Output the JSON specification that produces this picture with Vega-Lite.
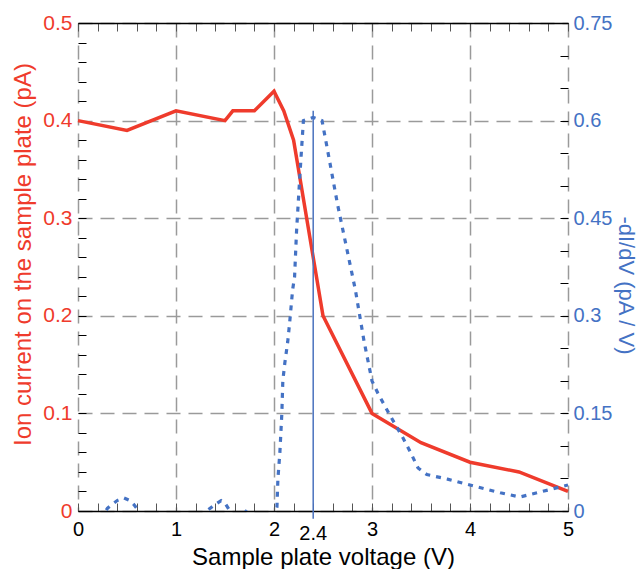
{
  "$schema": "https://vega.github.io/schema/vega-lite/v6.json",
  "width": 490,
  "height": 488,
  "autosize": {"type": "none"},
  "padding": {"left": 78, "top": 23, "right": 70, "bottom": 58},
  "background": "white",
  "config": {
    "font": "Liberation Sans",
    "view": {"stroke": null},
    "axis": {"labelFont": "Liberation Sans", "titleFont": "Liberation Sans", "titleFontWeight": "normal", "labelOverlap": false, "labelBound": false, "labelFlush": false}
  },
  "datasets": {
    "current": [
      {"V": 0.0, "I": 0.40}, {"V": 0.5, "I": 0.39}, {"V": 1.0, "I": 0.41}, {"V": 1.5, "I": 0.40},
      {"V": 1.58, "I": 0.41}, {"V": 1.8, "I": 0.41}, {"V": 2.0, "I": 0.43}, {"V": 2.1, "I": 0.41},
      {"V": 2.2, "I": 0.38}, {"V": 2.5, "I": 0.20}, {"V": 3.0, "I": 0.10}, {"V": 3.5, "I": 0.07},
      {"V": 4.0, "I": 0.05}, {"V": 4.5, "I": 0.04}, {"V": 5.0, "I": 0.02}
    ],
    "deriv": [
      {"V": 0.0, "D": -0.05}, {"V": 0.2, "D": -0.02}, {"V": 0.3, "D": 0.004}, {"V": 0.33, "D": 0.008},
      {"V": 0.4, "D": 0.016}, {"V": 0.47, "D": 0.02}, {"V": 0.53, "D": 0.016}, {"V": 0.57, "D": 0.01},
      {"V": 0.62, "D": 0.0}, {"V": 0.7, "D": -0.02}, {"V": 1.0, "D": -0.04}, {"V": 1.25, "D": -0.01},
      {"V": 1.33, "D": 0.002}, {"V": 1.4, "D": 0.01}, {"V": 1.46, "D": 0.016}, {"V": 1.5, "D": 0.012},
      {"V": 1.55, "D": 0.0}, {"V": 1.6, "D": -0.015}, {"V": 1.65, "D": -0.004}, {"V": 1.7, "D": 0.001},
      {"V": 1.75, "D": -0.005}, {"V": 1.85, "D": -0.03}, {"V": 1.95, "D": -0.02}, {"V": 2.02, "D": 0.0},
      {"V": 2.03, "D": 0.006}, {"V": 2.04, "D": 0.05}, {"V": 2.06, "D": 0.09}, {"V": 2.08, "D": 0.15},
      {"V": 2.09, "D": 0.2}, {"V": 2.11, "D": 0.227}, {"V": 2.14, "D": 0.26}, {"V": 2.16, "D": 0.29},
      {"V": 2.19, "D": 0.34}, {"V": 2.21, "D": 0.36}, {"V": 2.23, "D": 0.43}, {"V": 2.27, "D": 0.53},
      {"V": 2.3, "D": 0.6}, {"V": 2.4, "D": 0.605}, {"V": 2.49, "D": 0.6}, {"V": 2.54, "D": 0.56},
      {"V": 2.65, "D": 0.47}, {"V": 2.83, "D": 0.34}, {"V": 2.92, "D": 0.26}, {"V": 3.0, "D": 0.2},
      {"V": 3.06, "D": 0.181}, {"V": 3.18, "D": 0.148}, {"V": 3.31, "D": 0.114}, {"V": 3.39, "D": 0.091},
      {"V": 3.47, "D": 0.066}, {"V": 3.56, "D": 0.056}, {"V": 3.77, "D": 0.049}, {"V": 4.0, "D": 0.04},
      {"V": 4.31, "D": 0.028}, {"V": 4.51, "D": 0.0215}, {"V": 4.71, "D": 0.029}, {"V": 5.0, "D": 0.04}
    ],
    "marker": [{"V": 2.4, "top": 0.41, "bottom": -0.008, "labelY": -0.0236, "label": "2.4"}]
  },
  "layer": [
    {
      "layer": [
        {
          "data": {"name": "current"},
          "mark": {"type": "line", "color": "#EF3B2C", "strokeWidth": 3.5, "strokeJoin": "miter"},
          "encoding": {
            "x": {
              "field": "V", "type": "quantitative",
              "scale": {"domain": [0, 5], "nice": false, "zero": false},
              "axis": {
                "orient": "bottom", "tickCount": 100, "labelOverlap": false, "labelFlush": false,
                "values": [0,0.2,0.4,0.6,0.8,1,1.2,1.4,1.6,1.8,2,2.2,2.4,2.6,2.8,3,3.2,3.4,3.6,3.8,4,4.2,4.4,4.6,4.8,5],
                "labelExpr": "abs(datum.value - round(datum.value)) < 1e-6 ? format(round(datum.value), 'd') : ''",
                "labelFontSize": 20, "labelColor": "black", "labelPadding": 16,
                "tickSize": -8, "tickColor": "#555555", "tickWidth": 1,
                "domainColor": "black", "domainWidth": 1.5,
                "grid": true, "gridColor": "#9a9a9a", "gridWidth": 1.5, "gridDash": [14, 8],
                "gridOpacity": {"condition": {"test": "abs(datum.value - round(datum.value)) < 1e-6", "value": 1}, "value": 0},
                "title": "Sample plate voltage (V)", "titleFontSize": 24, "titleColor": "black",
                "titleX": 245, "titleY": 46, "titleAlign": "center", "titleBaseline": "middle"
              }
            },
            "y": {
              "field": "I", "type": "quantitative",
              "scale": {"domain": [0, 0.5], "nice": false},
              "axis": {
                "orient": "left", "tickCount": 100, "labelOverlap": false,
                "values": [0,0.02,0.04,0.06,0.08,0.1,0.12,0.14,0.16,0.18,0.2,0.22,0.24,0.26,0.28,0.3,0.32,0.34,0.36,0.38,0.4,0.42,0.44,0.46,0.48,0.5],
                "labelExpr": "abs(datum.value*10 - round(datum.value*10)) < 1e-6 ? format(round(datum.value*10)/10, '~g') : ''",
                "labelFontSize": 21, "labelColor": "#EF3B2C", "labelPadding": 14,
                "tickSize": -8, "tickColor": "black", "tickWidth": 1,
                "domain": false,
                "grid": true, "gridColor": "#9a9a9a", "gridWidth": 1.5, "gridDash": [14, 8],
                "gridOpacity": {"condition": {"test": "abs(datum.value*10 - round(datum.value*10)) < 1e-6", "value": 1}, "value": 0},
                "title": "Ion current on the sample plate (pA)", "titleFontSize": 24, "titleColor": "#EF3B2C",
                "titleAngle": -90, "titleX": -55, "titleY": 231, "titleAlign": "center", "titleBaseline": "middle"
              }
            }
          }
        },
        {
          "data": {"name": "marker"},
          "mark": {"type": "rule", "color": "#4A72BE", "strokeWidth": 1.5},
          "encoding": {
            "x": {"field": "V", "type": "quantitative"},
            "y": {"field": "top", "type": "quantitative"},
            "y2": {"field": "bottom"}
          }
        },
        {
          "data": {"name": "marker"},
          "mark": {"type": "text", "fontSize": 20, "color": "black", "font": "Liberation Sans", "align": "center", "baseline": "middle"},
          "encoding": {
            "x": {"field": "V", "type": "quantitative"},
            "y": {"field": "labelY", "type": "quantitative"},
            "text": {"field": "label"}
          }
        }
      ]
    },
    {
      "data": {"name": "deriv"},
      "mark": {"type": "line", "color": "#4472C4", "strokeWidth": 3.2, "strokeDash": [5, 6], "clip": true},
      "encoding": {
        "x": {
          "field": "V", "type": "quantitative",
          "scale": {"domain": [0, 5], "nice": false, "zero": false},
          "axis": {
            "orient": "top", "tickCount": 100,
            "values": [0,0.2,0.4,0.6,0.8,1,1.2,1.4,1.6,1.8,2,2.2,2.4,2.6,2.8,3,3.2,3.4,3.6,3.8,4,4.2,4.4,4.6,4.8,5],
            "labels": false, "title": null, "grid": false,
            "tickSize": -8, "tickColor": "#555555", "tickWidth": 1,
            "domainColor": "black", "domainWidth": 1.5
          }
        },
        "y": {
          "field": "D", "type": "quantitative",
          "scale": {"domain": [0, 0.75], "nice": false},
          "axis": {
            "orient": "right", "tickCount": 100, "labelOverlap": false,
            "values": [0,0.05,0.1,0.15,0.2,0.25,0.3,0.35,0.4,0.45,0.5,0.55,0.6,0.65,0.7,0.75],
            "labelExpr": "abs(datum.value/0.15 - round(datum.value/0.15)) < 1e-6 ? format(round(datum.value/0.15)*0.15, '.2~f') : ''",
            "labelFontSize": 20, "labelColor": "#4472C4", "labelPadding": 13,
            "tickSize": -8, "tickColor": "black", "tickWidth": 1,
            "domain": false, "grid": false,
            "title": "-dI/dV (pA / V)", "titleFontSize": 22, "titleColor": "#4472C4",
            "titleAngle": 90, "titleX": 57, "titleY": 262, "titleAlign": "center", "titleBaseline": "middle"
          }
        }
      }
    }
  ],
  "resolve": {"scale": {"y": "independent"}, "axis": {"x": "independent", "y": "independent"}}
}
